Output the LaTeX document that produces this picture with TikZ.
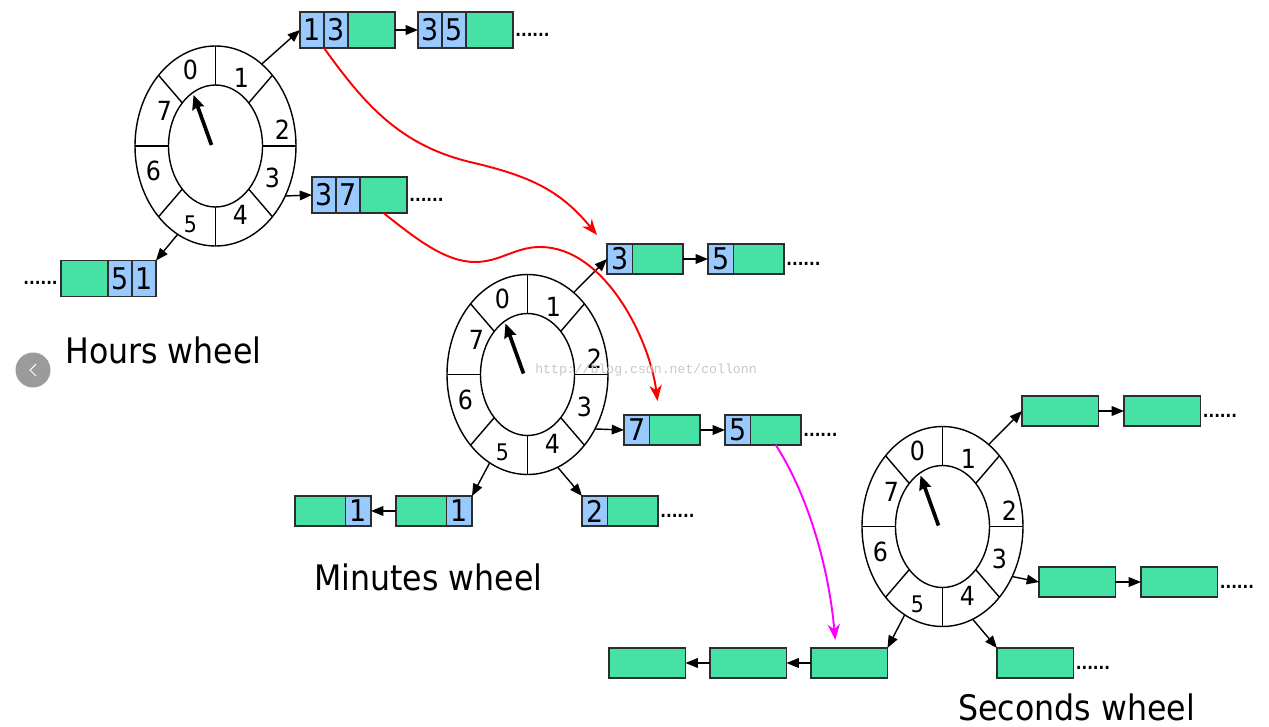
\documentclass[tikz,border=0pt]{standalone}
\usepackage{fontspec}
\setmainfont{DejaVu Sans Condensed}
\newfontfamily\markfont{Liberation Mono}
\usetikzlibrary{positioning, arrows.meta, calc}
\definecolor{KeyColor}{RGB}{153,202,255}
\definecolor{TaskColor}{RGB}{70,225,165}
\definecolor{EdgeColor}{RGB}{45,45,45}
\definecolor{JumpColor}{RGB}{250,0,0}
\definecolor{DropColor}{RGB}{255,0,255}
\definecolor{ButtonColor}{RGB}{155,155,155}
\tikzstyle{link} = [line width=0.8pt, -{Triangle[length=7pt,width=5.5pt]}]
\tikzstyle{rim} = [line width=0.8pt]
\tikzstyle{hand} = [line width=2.1pt, -{Stealth[length=8pt,width=7pt,inset=1pt]}]
\tikzset{
  key/.style={draw=EdgeColor, fill=KeyColor, line width=0.8pt, inner sep=0pt, outer sep=0pt, font=\fontsize{17}{17}\selectfont},
  task/.style={draw=EdgeColor, fill=TaskColor, line width=0.8pt, inner sep=0pt, outer sep=0pt},
  hour key/.style={key, minimum width=0.48cm, minimum height=0.72cm},
  hour task/.style={task, minimum width=0.94cm, minimum height=0.72cm},
  minute key/.style={key, minimum width=0.51cm, minimum height=0.6cm},
  minute task/.style={task, minimum width=1.01cm, minimum height=0.6cm},
  second task/.style={task, minimum width=1.53cm, minimum height=0.6cm},
  slot num/.style={inner sep=0pt, font=\fontsize{15}{15}\selectfont},
  small num/.style={inner sep=0pt, font=\fontsize{13}{13}\selectfont},
  more/.style={inner sep=0pt, font=\bfseries\fontsize{9.5}{10}\selectfont},
  wheel title/.style={inner sep=0pt, font=\fontsize{20}{24}\selectfont},
  jump/.style={line width=1.1pt, JumpColor, -{Stealth[length=9pt,width=7pt]}},
  drop/.style={line width=1.1pt, DropColor, -{Stealth[length=9pt,width=7pt]}},
  watermark/.style={inner sep=0pt, text=black!22, font=\markfont\fontsize{7.5}{8}\selectfont}
}

\begin{document}
\begin{tikzpicture}[x=0.02cm, y=-0.02cm]
    \useasboundingbox (0,0) rectangle (1269,727);

    % Wheels: rim, slots, numbers and hand
    \foreach \w/\cx/\cy/\tr in {h/215.5/146/-30, m/527.5/374.5/-33, s/942.5/526.5/-30} {
        \coordinate (\w-c) at (\cx,\cy);
        \draw[rim] (\w-c) ellipse [x radius=80.5, y radius=100];
        \draw[rim] (\w-c) ellipse [x radius=47, y radius=61];
        \foreach \t in {0,45,...,315}
            \draw[rim] ($(\w-c)+({47*cos(\t)},{-61*sin(\t)})$) -- ($(\w-c)+({80.5*cos(\t)},{-100*sin(\t)})$);
        \foreach \d/\dx/\dy in {0/-25/-76, 1/26/-68, 2/67/-16, 3/57/32, 4/25/69, 6/-62/25, 7/-51/-35}
            \node[slot num] (\w-d\d) at ($(\w-c)+(\dx,\dy)$) {\d};
        \node[small num] (\w-d5) at ($(\w-c)+(-25,78)$) {5};
        \draw[hand] ($(\w-c)+(-4,-1)$) -- ($(\w-c)+(-22,-51)$);
        % where the lists leave the rim
        \coordinate (\w-slot1) at ($(\w-c)+({80.5*cos(55)},{-100*sin(55)})$);
        \coordinate (\w-slot3) at ($(\w-c)+({80.5*cos(\tr)},{-100*sin(\tr)})$);
        \coordinate (\w-slot4) at ($(\w-c)+({80.5*cos(292)},{-100*sin(292)})$);
        \coordinate (\w-slot5) at ($(\w-c)+({80.5*cos(242)},{-100*sin(242)})$);
    }

    % Hours lists
    \node[hour key, anchor=west] (hA1) at (300,30) {1};
    \node[hour key, right=0pt of hA1] (hA2) {3};
    \node[hour task, right=0pt of hA2] (hA3) {};
    \node[hour key, anchor=west] (hB1) at (418,30) {3};
    \node[hour key, right=0pt of hB1] (hB2) {5};
    \node[hour task, right=0pt of hB2] (hB3) {};
    \node[more, anchor=base west] (hBmore) at ($(hB3.east)+(2,6)$) {......};
    \node[hour key, anchor=west] (hC1) at (312,195) {3};
    \node[hour key, right=0pt of hC1] (hC2) {7};
    \node[hour task, right=0pt of hC2] (hC3) {};
    \node[more, anchor=base west] (hCmore) at ($(hC3.east)+(2,6)$) {......};
    \node[hour task, anchor=west] (hD1) at (61,278.5) {};
    \node[hour key, right=0pt of hD1] (hD2) {5};
    \node[hour key, right=0pt of hD2] (hD3) {1};
    \node[more, anchor=base east] (hDmore) at ($(hD1.west)+(-3,6)$) {......};

    \draw[link] (h-slot1) -- (hA1.west);
    \draw[link] (hA3.east) -- (hB1.west);
    \draw[link] (h-slot3) -- (hC1.west);
    \draw[link] (h-slot5) -- (hD3.north east);

    % Minutes lists
    \node[minute key, anchor=west] (mA1) at (607,259) {3};
    \node[minute task, right=0pt of mA1] (mA2) {};
    \node[minute key, anchor=west] (mB1) at (708,259) {5};
    \node[minute task, right=0pt of mB1] (mB2) {};
    \node[more, anchor=base west] (mBmore) at ($(mB2.east)+(2,6)$) {......};
    \node[minute key, anchor=west] (mC1) at (624,430) {7};
    \node[minute task, right=0pt of mC1] (mC2) {};
    \node[minute key, anchor=west] (mD1) at (725,430) {5};
    \node[minute task, right=0pt of mD1] (mD2) {};
    \node[more, anchor=base west] (mDmore) at ($(mD2.east)+(2,6)$) {......};
    \node[minute task, anchor=west] (mE1) at (295,511) {};
    \node[minute key, right=0pt of mE1] (mE2) {1};
    \node[minute task, anchor=west] (mF1) at (396,511) {};
    \node[minute key, right=0pt of mF1] (mF2) {1};
    \node[minute key, anchor=west] (mG1) at (582,511) {2};
    \node[minute task, right=0pt of mG1] (mG2) {};
    \node[more, anchor=base west] (mGmore) at ($(mG2.east)+(2,6)$) {......};

    \draw[link] (m-slot1) -- (mA1.west);
    \draw[link] (mA2.east) -- (mB1.west);
    \draw[link] (m-slot3) -- (mC1.west);
    \draw[link] (mC2.east) -- (mD1.west);
    \draw[link] (m-slot5) -- (mF2.north east);
    \draw[link] (mF1.west) -- (mE2.east);
    \draw[link] (m-slot4) -- (mG1.north west);

    % Seconds lists
    \node[second task, anchor=west] (sA) at (1022,411) {};
    \node[second task, anchor=west] (sB) at (1124,411) {};
    \node[more, anchor=base west] (sBmore) at ($(sB.east)+(2,6)$) {......};
    \node[second task, anchor=west] (sC) at (1039,582) {};
    \node[second task, anchor=west] (sD) at (1141,582) {};
    \node[more, anchor=base west] (sDmore) at ($(sD.east)+(2,6)$) {......};
    \node[second task, anchor=west] (sE) at (811,663) {};
    \node[second task, anchor=west] (sF) at (710,663) {};
    \node[second task, anchor=west] (sG) at (609,663) {};
    \node[second task, anchor=west] (sH) at (997,663) {};
    \node[more, anchor=base west] (sHmore) at ($(sH.east)+(2,6)$) {......};

    \draw[link] (s-slot1) -- (sA.west);
    \draw[link] (sA.east) -- (sB.west);
    \draw[link] (s-slot3) -- (sC.west);
    \draw[link] (sC.east) -- (sD.west);
    \draw[link] (s-slot5) -- (sE.north east);
    \draw[link] (sE.west) -- (sF.east);
    \draw[link] (sF.west) -- (sG.east);
    \draw[link] (s-slot4) -- (sH.north west);

    % Tasks moving down to the next wheel
    \draw[jump] (hA1.south east) .. controls (365,105) and (400,145) .. (470,162)
        .. controls (530,176) and (560,190) .. ([shift={(-10,-9)}]mA1.north west);
    \draw[jump] (hC3.south) .. controls (415,238) and (445,262) .. (475,262)
        .. controls (500,262) and (515,247) .. (540,247)
        .. controls (605,247) and (650,340) .. ([shift={(8,-14)}]mC2.north west);
    \draw[drop] (mD2.south) .. controls (805,490) and (828,560) .. ([shift={(-14,-8)}]sE.north);

    % Titles
    \node[wheel title, anchor=base west] (hTitle) at (65,363) {Hours wheel};
    \node[wheel title, anchor=base west] (mTitle) at (314,590) {Minutes wheel};
    \node[wheel title, anchor=base west] (sTitle) at (958,720) {Seconds wheel};

    % Page button and watermark
    \fill[ButtonColor] (33,370) circle [radius=17.5];
    \draw[white, line width=0.6pt] (36,364) -- (30,370) -- (36,376);
    \node[watermark] (mark) at (646,370) {http://blog.csdn.net/collonn};
\end{tikzpicture}
\end{document}
